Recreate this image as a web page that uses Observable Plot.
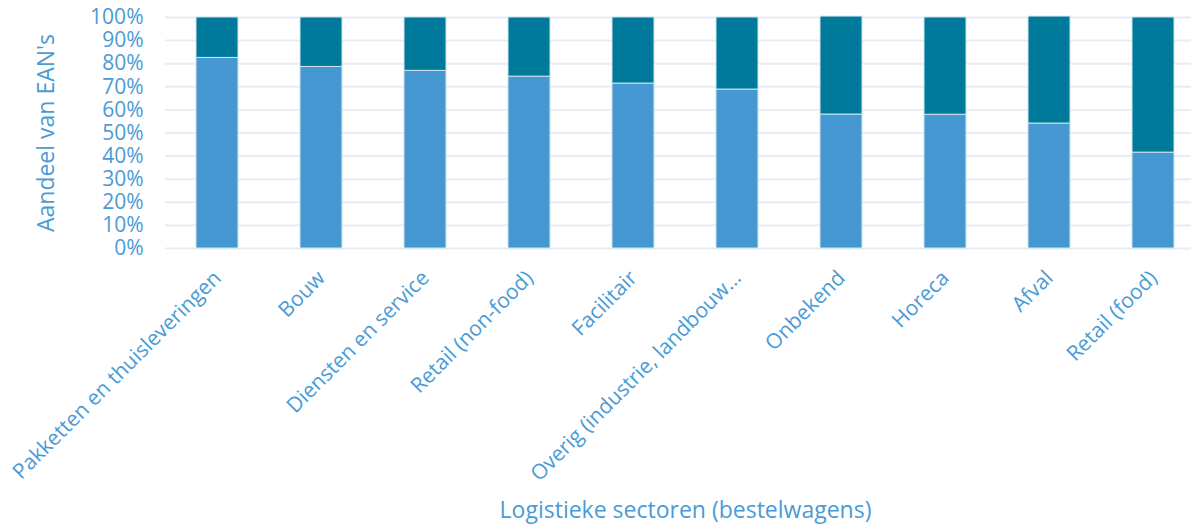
<!DOCTYPE html>
<html>
<head>
<meta charset="utf-8">
<script src="https://cdn.jsdelivr.net/npm/d3@7"></script>
<script src="https://cdn.jsdelivr.net/npm/@observablehq/plot@0.6"></script>
<style>
  html, body { margin: 0; padding: 0; background: #fff; overflow: hidden; }
  #chart svg { display: block; }
</style>
</head>
<body>
<div id="chart"></div>
<script>
const sectors = [
  "Pakketten en thuisleveringen",
  "Bouw",
  "Diensten en service",
  "Retail (non-food)",
  "Facilitair",
  "Overig (industrie, landbouw…",
  "Onbekend",
  "Horeca",
  "Afval",
  "Retail (food)"
];
const seriesNames = ["deel1", "deel2"];
const deel1 = [82.5, 78.6, 76.9, 74.4, 71.4, 68.8, 58.0, 57.9, 54.1, 41.5];
const deel2 = [17.5, 21.4, 23.1, 25.6, 28.6, 31.2, 42.4, 42.1, 46.3, 58.5];
const yTicks = [0, 10, 20, 30, 40, 50, 60, 70, 80, 90, 100];
const yLabel = "Aandeel van EAN's";
const xLabel = "Logistieke sectoren (bestelwagens)";

const data = [];
sectors.forEach((s, i) => {
  data.push({sector: s, serie: seriesNames[0], value: deel1[i]});
  data.push({sector: s, serie: seriesNames[1], value: deel2[i]});
});

const textColor = "#4a9bd6";
const font = "'Open Sans', sans-serif";

const chart = Plot.plot({
  width: 1191,
  height: 524,
  marginLeft: 165,
  marginRight: -14,
  marginTop: 17,
  marginBottom: 276,
  style: {fontFamily: font, color: textColor, background: "#fff", overflow: "hidden"},
  x: {domain: sectors, paddingInner: 0.6, paddingOuter: 0.3, label: null},
  y: {domain: [0, 100], label: null},
  color: {domain: seriesNames, range: ["#4598d2", "#007a9a"]},
  marks: [
    Plot.gridY(yTicks, {stroke: "#e3eef7", strokeOpacity: 1, strokeWidth: 2}),
    Plot.barY(data, {x: "sector", y: "value", fill: "serie", stroke: "#cfe4f0", strokeWidth: 1, order: seriesNames}),
    Plot.axisY(yTicks, {tickSize: 0, tickPadding: 22, fontSize: 21, fill: textColor, tickFormat: d => d + "%", label: null}),
    Plot.axisX({tickSize: 0, tickRotate: -45, fontSize: 21, fill: textColor, tickPadding: 26, label: null}),
    Plot.text([yLabel], {frameAnchor: "left", textAnchor: "middle", lineAnchor: "middle", rotate: -90, dx: -119, fontSize: 23, fill: textColor}),
    Plot.text([xLabel], {frameAnchor: "bottom", textAnchor: "middle", lineAnchor: "middle", dy: 262, fontSize: 23, fill: textColor})
  ]
});
document.getElementById("chart").appendChild(chart);
</script>
</body>
</html>
